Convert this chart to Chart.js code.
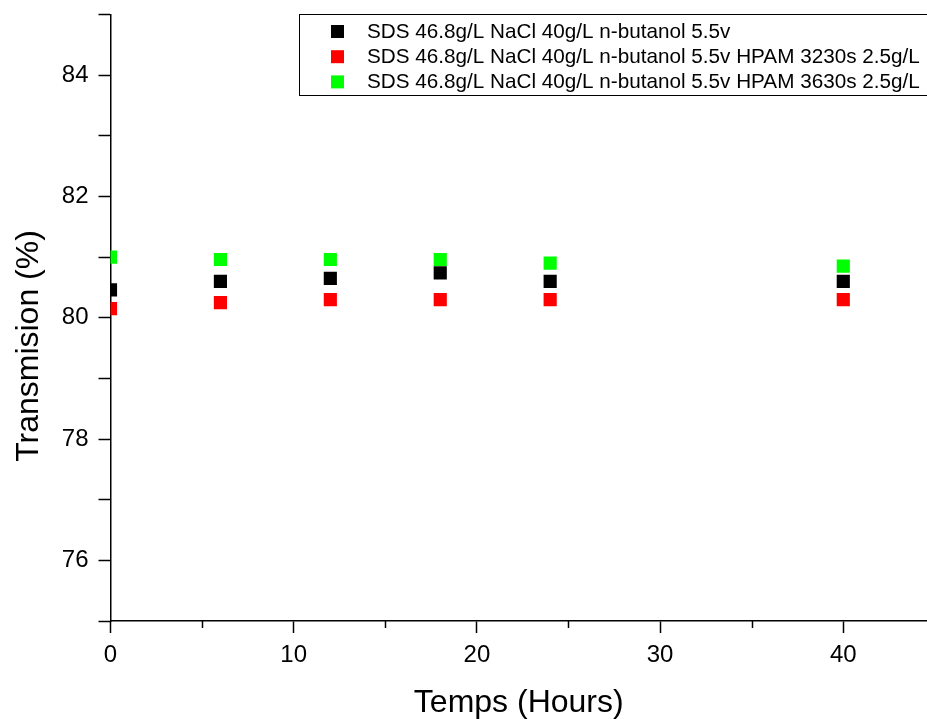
<!DOCTYPE html>
<html>
<head>
<meta charset="utf-8">
<script src="https://cdn.jsdelivr.net/npm/chart.js@4.4.1/dist/chart.umd.min.js"></script>
<style>
  html, body { margin: 0; padding: 0; background: #fff; }
  #wrap { width: 927px; height: 719px; position: relative; }
</style>
</head>
<body>
<div id="wrap"><canvas id="c" width="927" height="719"></canvas></div>
<script>
const hours = [0, 6, 12, 18, 24, 40];
const seriesLabels = [
  'SDS 46.8g/L NaCl 40g/L n-butanol 5.5v',
  'SDS 46.8g/L NaCl 40g/L n-butanol 5.5v HPAM 3230s 2.5g/L',
  'SDS 46.8g/L NaCl 40g/L n-butanol 5.5v HPAM 3630s 2.5g/L'
];
const blackValues = [80.46, 80.60, 80.65, 80.74, 80.60, 80.60];
const redValues   = [80.15, 80.25, 80.30, 80.30, 80.30, 80.30];
const greenValues = [81.00, 80.96, 80.96, 80.96, 80.90, 80.85];
const seriesColors = ['#000000', '#ff0000', '#00ff00'];
const yTickLabels = [76, 78, 80, 82, 84];
const xTickLabels = [0, 10, 20, 30, 40];
const xTitle = 'Temps (Hours)';
const yTitle = 'Transmision (%)';

const FONT = "'Liberation Sans', Arial, sans-serif";

function toPoints(vals) { return hours.map((h, i) => ({ x: h, y: vals[i] })); }
const allSeries = [blackValues, redValues, greenValues];

const datasets = allSeries.map((vals, i) => ({
  label: seriesLabels[i],
  data: toPoints(vals),
  backgroundColor: seriesColors[i],
  borderColor: seriesColors[i],
  borderWidth: 0,
  pointStyle: 'rect',
  pointRadius: 9.3,
  pointHoverRadius: 9.3,
  showLine: false,
  clip: 0
}));

function zeroPad(s) { s.paddingTop = 0; s.paddingBottom = 0; s.paddingLeft = 0; s.paddingRight = 0; }

const extras = {
  id: 'extras',
  afterDatasetsDraw(chart) {
    const ctx = chart.ctx;
    const xs = chart.scales.x;
    ctx.save();
    // minor x ticks
    ctx.strokeStyle = '#000';
    ctx.lineWidth = 1.5;
    xs.ticks.forEach(t => {
      if (t.value % 10 !== 0) {
        const px = Math.round(xs.getPixelForValue(t.value)) + 0.5;
        ctx.beginPath();
        ctx.moveTo(px, xs.top);
        ctx.lineTo(px, xs.top + 7);
        ctx.stroke();
      }
    });
    // y title
    ctx.fillStyle = '#000';
    ctx.font = '32px ' + FONT;
    ctx.textAlign = 'center';
    ctx.textBaseline = 'middle';
    ctx.translate(29, 346);
    ctx.rotate(-Math.PI / 2);
    ctx.fillText(yTitle, 0, 0);
    ctx.restore();
  }
};

const boxLegend = {
  id: 'boxLegend',
  afterDraw(chart) {
    const ctx = chart.ctx;
    const left = 299.5, top = 14.5, right = 940, bottom = 95.5;
    ctx.save();
    ctx.fillStyle = '#fff';
    ctx.fillRect(left, top, right - left, bottom - top);
    ctx.strokeStyle = '#000';
    ctx.lineWidth = 1;
    ctx.strokeRect(left, top, right - left, bottom - top);
    ctx.font = '20.7px ' + FONT;
    ctx.textBaseline = 'middle';
    ctx.textAlign = 'left';
    chart.data.datasets.forEach((ds, i) => {
      const cy = 31.5 + i * 25.2;
      ctx.fillStyle = ds.backgroundColor;
      ctx.fillRect(331, cy - 6.5, 13, 13);
      ctx.fillStyle = '#000';
      ctx.fillText(ds.label, 367, cy + 0.5);
    });
    ctx.restore();
  }
};

new Chart(document.getElementById('c'), {
  type: 'scatter',
  data: { datasets },
  options: {
    responsive: false,
    animation: false,
    events: [],
    layout: { autoPadding: false, padding: { top: 14.5, right: 0, left: 0, bottom: 0 } },
    plugins: { legend: { display: false }, tooltip: { enabled: false } },
    scales: {
      x: {
        type: 'linear',
        min: 0,
        max: 44.57,
        afterFit(s) { s.height = 98; zeroPad(s); },
        ticks: {
          stepSize: 5,
          includeBounds: false,
          autoSkip: false,
          maxRotation: 0,
          padding: 8,
          color: '#000',
          font: { family: FONT, size: 24 },
          callback: v => xTickLabels.includes(v) ? String(v) : ''
        },
        grid: {
          drawOnChartArea: false,
          drawTicks: true,
          tickLength: 12,
          tickWidth: 1.5,
          tickColor: c => (c.tick && c.tick.value % 10 === 0) ? '#000' : 'rgba(0,0,0,0)'
        },
        border: { display: true, color: '#000', width: 1.5 },
        title: {
          display: true,
          text: xTitle,
          color: '#000',
          font: { family: FONT, size: 32, lineHeight: 1 },
          padding: { top: 0, bottom: 0 }
        }
      },
      y: {
        type: 'linear',
        min: 75,
        max: 85,
        afterFit(s) { s.width = 110.5; zeroPad(s); },
        ticks: {
          stepSize: 1,
          autoSkip: false,
          padding: 10,
          color: '#000',
          font: { family: FONT, size: 24 },
          callback: v => yTickLabels.includes(v) ? String(v) : ''
        },
        grid: {
          drawOnChartArea: false,
          drawTicks: true,
          tickLength: 12,
          tickWidth: 1.5,
          tickColor: '#000'
        },
        border: { display: true, color: '#000', width: 1.5 },
        title: { display: false }
      }
    }
  },
  plugins: [extras, boxLegend]
});
</script>
</body>
</html>
